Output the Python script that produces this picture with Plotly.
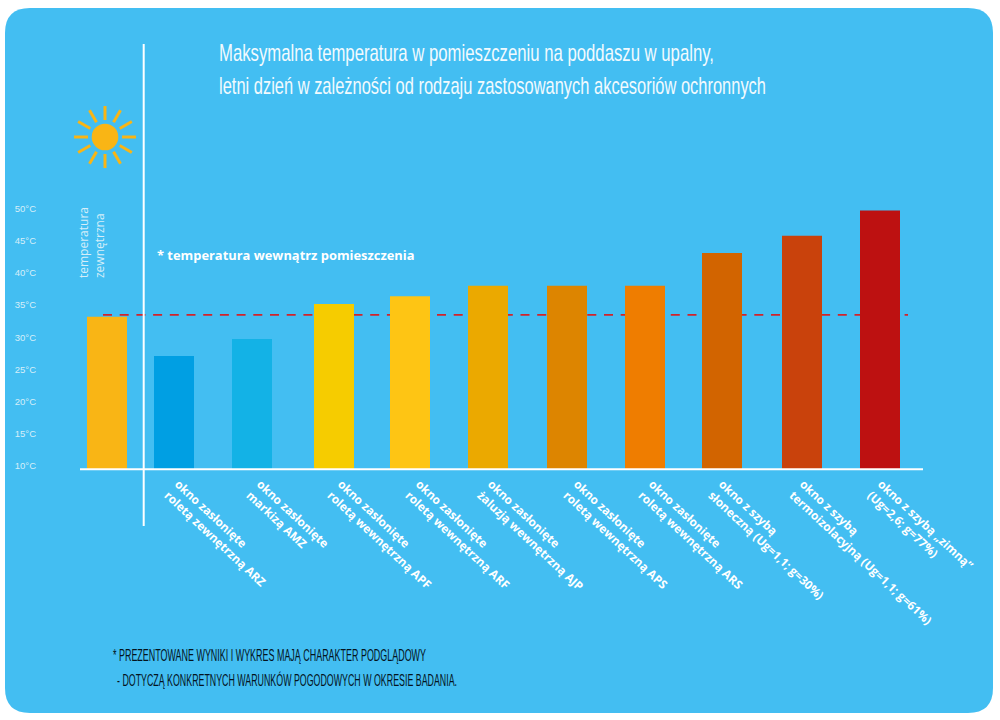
import json
import math
import plotly.graph_objects as go

categories = [
    "temperatura zewnętrzna",
    "okno zasłonięte<br>roletą zewnętrzną ARZ",
    "okno zasłonięte<br>markizą AMZ",
    "okno zasłonięte<br>roletą wewnętrzną APF",
    "okno zasłonięte<br>roletą wewnętrzną ARF",
    "okno zasłonięte<br>żaluzją wewnętrzną AJP",
    "okno zasłonięte<br>roletą wewnętrzną APS",
    "okno zasłonięte<br>roletą wewnętrzną ARS",
    "okno z szybą<br>słoneczną (Ug=1,1; g=30%)",
    "okno z szybą<br>termoizolacyjną (Ug=1,1; g=61%)",
    "okno z szybą „zimną”<br>(Ug=2,6; g=77%)",
]
temperatures = [33.2, 27.1, 29.75, 35.2, 36.4, 38.0, 38.0, 38.0, 43.1, 45.8, 49.7]
outside_temperature = 33.5
y_ticks = [10, 15, 20, 25, 30, 35, 40, 45, 50]
y_tick_labels = ["10°C", "15°C", "20°C", "25°C", "30°C", "35°C", "40°C", "45°C", "50°C"]
title_lines = [
    "Maksymalna temperatura w pomieszczeniu na poddaszu w upalny,",
    "letni dzień w zależności od rodzaju zastosowanych akcesoriów ochronnych",
]
footer_lines = [
    "* PREZENTOWANE WYNIKI I WYKRES MAJĄ CHARAKTER PODGLĄDOWY",
    "- DOTYCZĄ KONKRETNYCH WARUNKÓW POGODOWYCH W OKRESIE BADANIA.",
]
inside_note = "* temperatura wewnątrz pomieszczenia"

W, H = 1000, 720
px = lambda v: v / W
py = lambda v: 1 - v / H

bar_colors = ["#F9B515", "#009FE3", "#13B2E6", "#F6CC00", "#FEC514", "#EBA900",
              "#DD8500", "#EF7D00", "#D26400", "#C9420C", "#BD1111"]
panel = "#43BEF2"
slot = 78.0
nudges = [7, -4, -4, 0, -2, -2, -1, -1, -2, 0, 0]
label_nudges = [0, 0, 4, 7, 7, 1, 9, 6, -2, 1, 1]
bar_w = 40

fig = go.Figure(go.Bar(
    x=list(range(len(categories))),
    y=temperatures,
    width=bar_w / slot,
    offset=[(n - bar_w / 2) / slot for n in nudges],
    marker=dict(color=bar_colors, line=dict(width=0)),
    hovertext=categories,
    hoverinfo="text+y",
))

shapes = []
x0, x1, y0, y1, r = px(5), px(993), py(8), py(713), 25
rx, ry = r / W, r / H
shapes.append(dict(
    type="path", xref="paper", yref="paper", layer="below",
    fillcolor=panel, line=dict(width=0),
    path=(f"M {x0+rx} {y0} L {x1-rx} {y0} Q {x1} {y0} {x1} {y0-ry} L {x1} {y1+ry} "
          f"Q {x1} {y1} {x1-rx} {y1} L {x0+rx} {y1} Q {x0} {y1} {x0} {y1+ry} "
          f"L {x0} {y0-ry} Q {x0} {y0} {x0+rx} {y0} Z"),
))
shapes.append(dict(type="line", xref="paper", yref="y", layer="below",
                   x0=px(103), x1=px(908), y0=outside_temperature, y1=outside_temperature,
                   line=dict(color="#D2232A", width=1.7, dash="9px,7.7px")))
shapes.append(dict(type="line", xref="paper", yref="paper", layer="above",
                   x0=px(143.7), x1=px(143.7), y0=py(44), y1=py(526),
                   line=dict(color="white", width=2)))
shapes.append(dict(type="line", xref="paper", yref="paper", layer="above",
                   x0=px(80), x1=px(923), y0=py(469.3), y1=py(469.3),
                   line=dict(color="white", width=2)))
sx, sy = 105, 137
shapes.append(dict(type="circle", xref="paper", yref="paper", layer="above",
                   x0=px(sx - 13.3), x1=px(sx + 13.3), y0=py(sy - 13.3), y1=py(sy + 13.3),
                   fillcolor="#F9B515", line=dict(width=0)))
for i in range(12):
    a = math.radians(i * 30)
    shapes.append(dict(type="line", xref="paper", yref="paper", layer="above",
                       x0=px(sx + 17 * math.cos(a)), y0=py(sy + 17 * math.sin(a)),
                       x1=px(sx + 31 * math.cos(a)), y1=py(sy + 31 * math.sin(a)),
                       line=dict(color="#F9B515", width=3)))

def note(text, x, y, font, size, color, xanchor="left", **kw):
    return dict(text=text, xref="paper", yref="paper", x=px(x), y=py(y),
                xanchor=xanchor, yanchor="middle", align="left", borderpad=0,
                showarrow=False, font=dict(family=font, size=size, color=color), **kw)

sans = "Liberation Sans"
squeezed = [
    (title_lines[0], 218, 713, 53, 23.4, "#F2FAFE"),
    (title_lines[1], 218, 765, 86, 23.4, "#F2FAFE"),
    (footer_lines[0], 112, 425, 655, 17, "#04141E"),
    (footer_lines[1], 116, 456, 680, 17, "#04141E"),
]
annotations = [note(t, a, y, sans, s, c) for t, a, b, y, s, c in squeezed]
annotations += [
    note(inside_note, 156, 255, "Open Sans", 12.9, "white"),
    note("temperatura<br>zewnętrzna", 91, 243, "Open Sans", 12, "#D6EEF9",
         xanchor="center", textangle=-90),
]
annotations[4]["font"]["weight"] = 700

fig.update_layout(
    width=W, height=H, autosize=False,
    margin=dict(l=0, r=0, t=0, b=0, pad=0, autoexpand=False),
    paper_bgcolor="white", plot_bgcolor="rgba(0,0,0,0)",
    showlegend=False, shapes=shapes, annotations=annotations,
    xaxis=dict(
        domain=[px(80), px(923)], range=[-20 / slot, 10 + 43 / slot],
        tickmode="array",
        tickvals=[i + n / slot for i, n in enumerate(label_nudges)][1:],
        ticktext=categories[1:],
        tickangle=43, ticks="", showgrid=False, showline=False, zeroline=False,
        automargin=False, ticklabelstandoff=5,
        tickfont=dict(family="Open Sans", size=11.8, color="white", weight=700),
    ),
    yaxis=dict(
        domain=[py(469), py(44)], range=[9.53, 75.6],
        tickmode="array", tickvals=y_ticks, ticktext=y_tick_labels,
        ticks="", showgrid=False, showline=False, zeroline=False,
        automargin=False, ticklabelstandoff=43,
        tickfont=dict(family="Liberation Sans", size=9.5, color="#D6EEF9"),
    ),
)

widths = {t: b - a for t, a, b, *_ in squeezed}
post = "document.body.style.margin='0';\n" + (
    "var w=" + json.dumps(widths, ensure_ascii=False) + ";\n"
    "document.querySelectorAll('.annotation-text').forEach(function(e){"
    "var k=e.textContent; if(w[k]){"
    "e.setAttribute('textLength',w[k]);"
    "e.setAttribute('lengthAdjust','spacingAndGlyphs');}});"
)
fig.write_html("out.html", config=dict(displayModeBar=False), post_script=post)
